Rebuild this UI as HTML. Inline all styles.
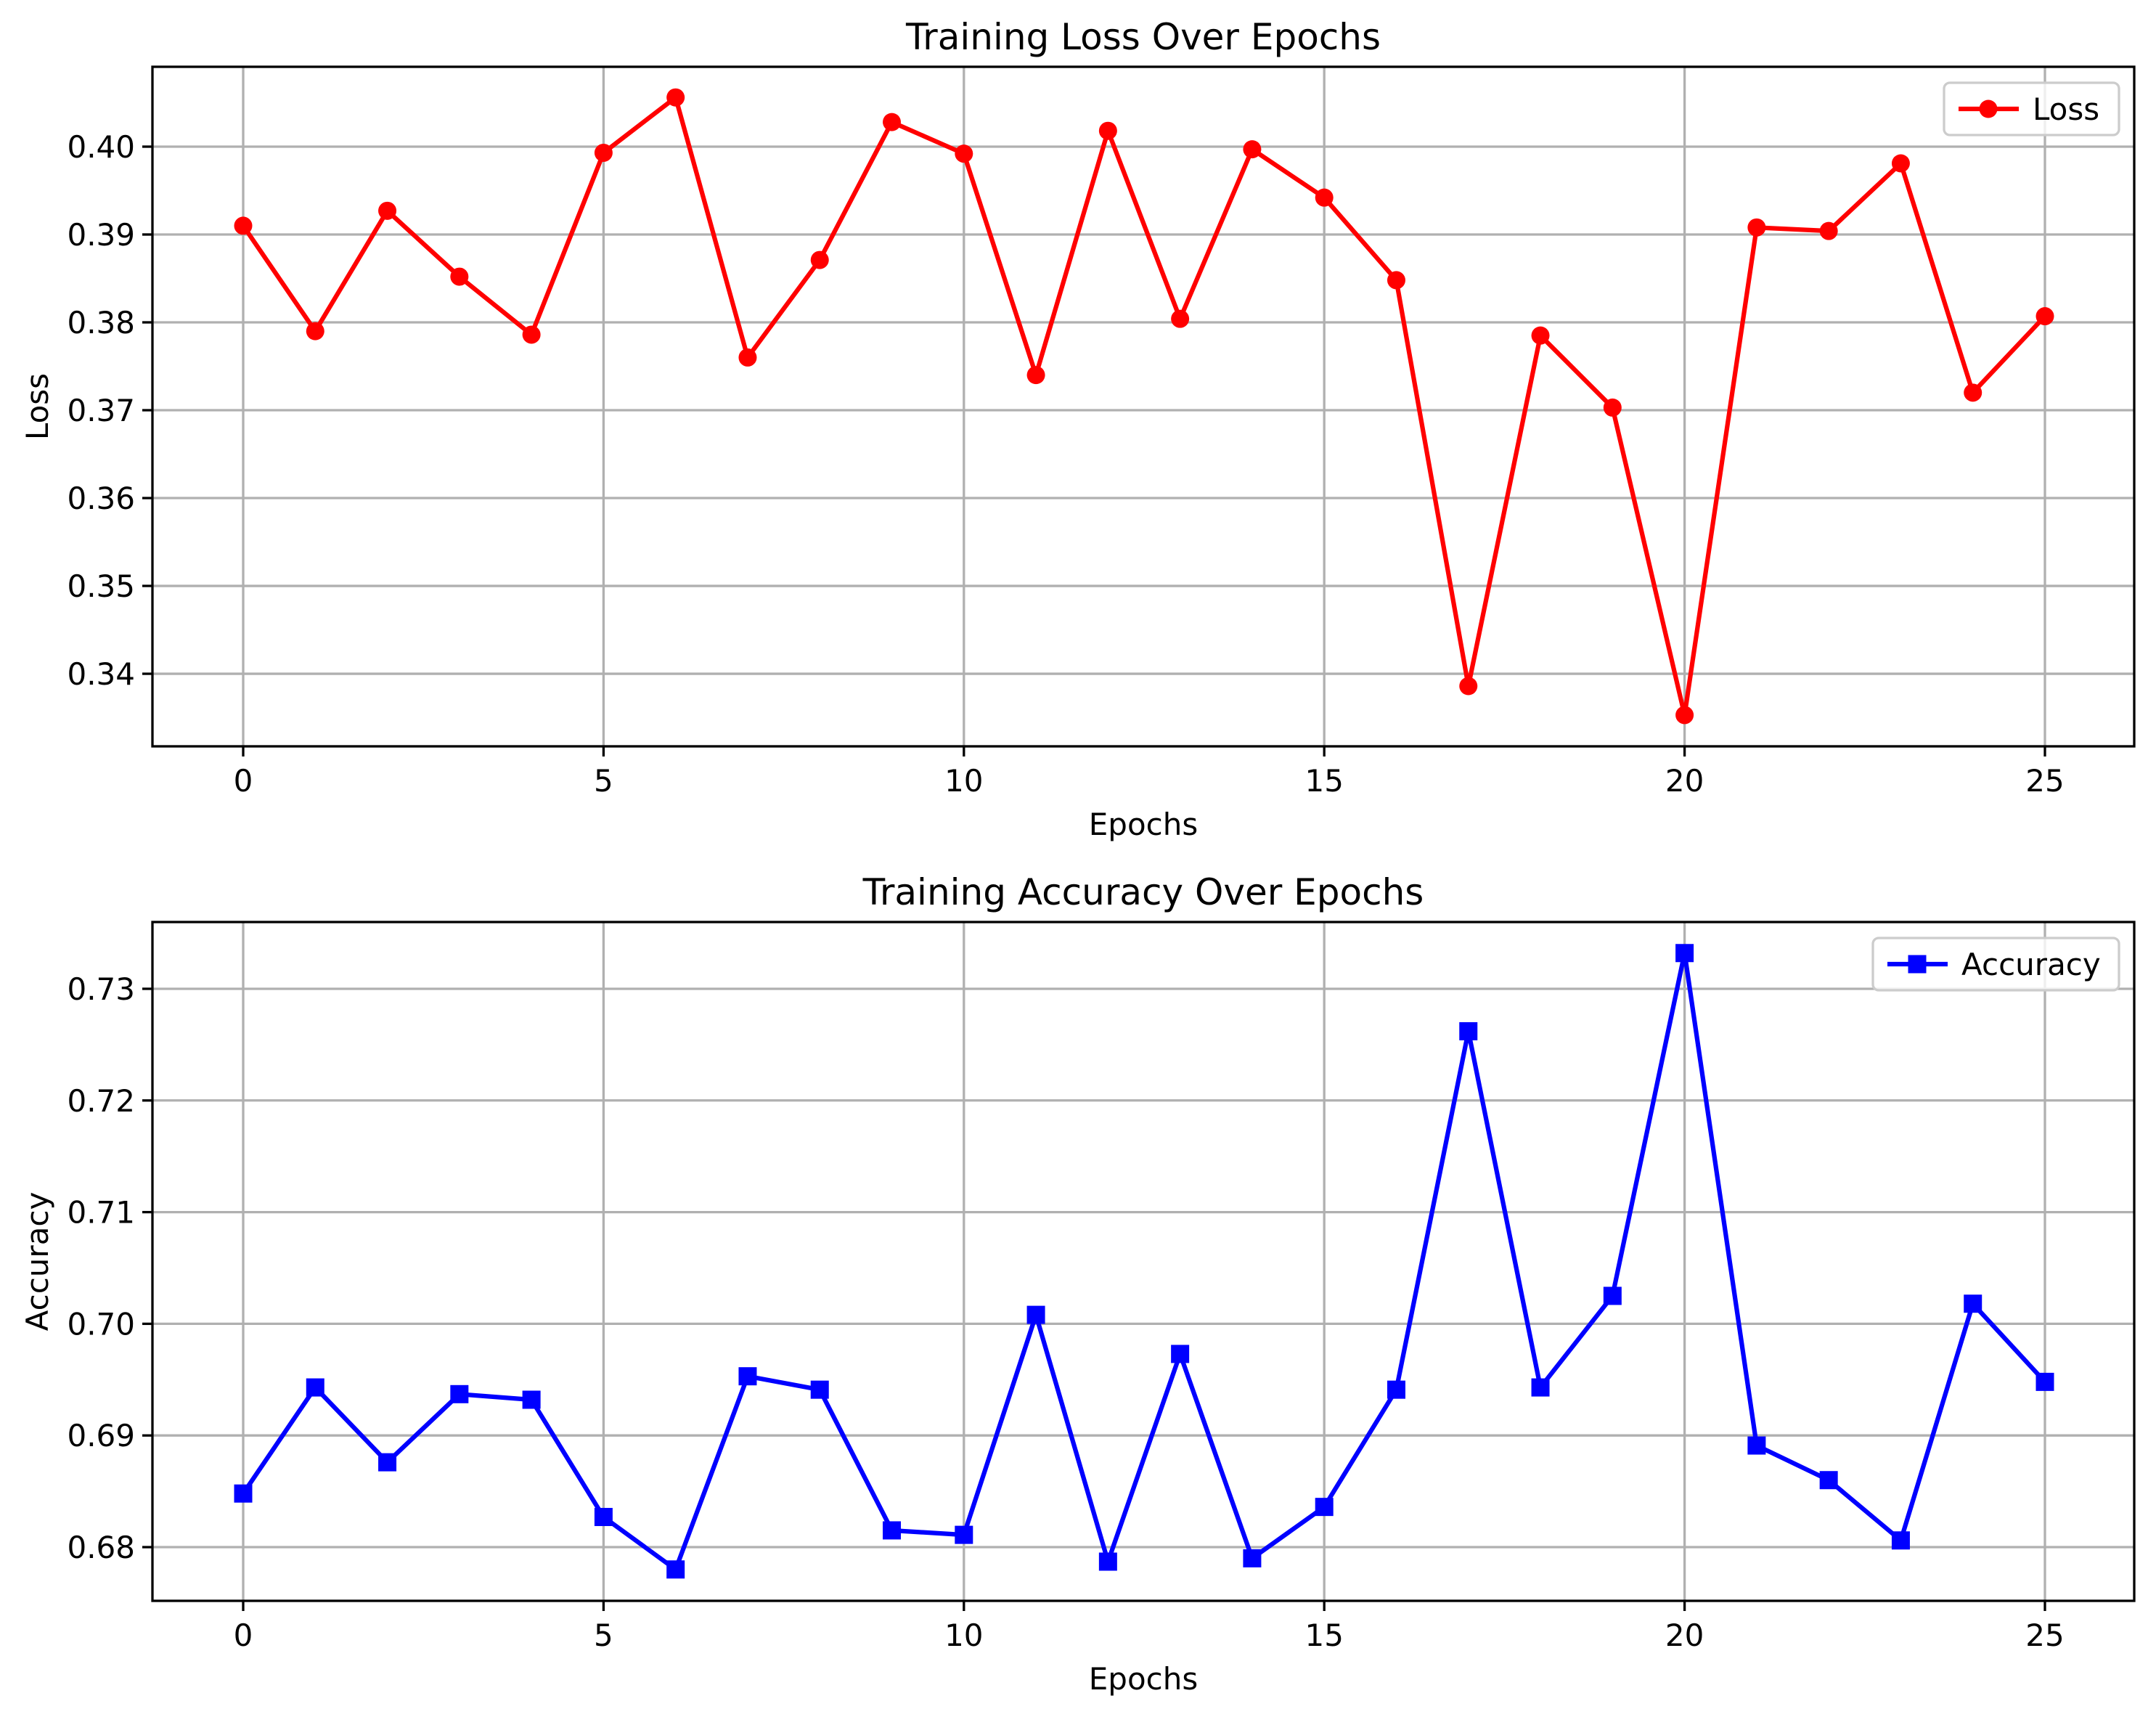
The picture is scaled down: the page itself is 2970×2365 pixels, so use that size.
<!DOCTYPE html>
<html><head><meta charset="utf-8"><style>
body{margin:0;background:#fff}
svg{display:block;font-family:"DejaVu Sans","Liberation Sans",sans-serif}
</style></head><body>
<svg id="c" width="2970" height="2365" xmlns="http://www.w3.org/2000/svg"></svg>
<script>
const epochs=[0,1,2,3,4,5,6,7,8,9,10,11,12,13,14,15,16,17,18,19,20,21,22,23,24,25];
const lossValues=[0.391,0.379,0.3927,0.3852,0.3786,0.3993,0.4056,0.376,0.3871,0.4028,0.3992,0.374,0.4018,0.3804,0.3997,0.3942,0.3848,0.3386,0.3785,0.3703,0.3353,0.3908,0.3904,0.3981,0.372,0.3807];
const accValues=[0.6848,0.6943,0.6876,0.6937,0.6932,0.6827,0.678,0.6953,0.6941,0.6815,0.6811,0.7008,0.6787,0.6973,0.679,0.6836,0.6941,0.7262,0.6943,0.7025,0.7332,0.6891,0.686,0.6806,0.7018,0.6948];
const xTicks=[0,5,10,15,20,25];
const lossTicks=[0.34,0.35,0.36,0.37,0.38,0.39,0.40];
const accTicks=[0.68,0.69,0.70,0.71,0.72,0.73];
const svg=document.getElementById('c');
const NS='http://www.w3.org/2000/svg';
function mk(tag,at,parent){const e=document.createElementNS(NS,tag);for(const k in at)e.setAttribute(k,at[k]);(parent||svg).appendChild(e);return e;}
function txt(s,at,parent){const e=mk('text',at,parent);e.textContent=s;return e;}
function panel(o){
  const g=mk('g',{});
  
  
  const L=210,R=2940,T=o.top,B=o.bottom;
  const xs=v=>335+(v-0)*(2817-335)/25;
  const ys=v=>T+(o.ymax-v)/(o.ymax-o.ymin)*(B-T);
  xTicks.forEach(t=>{const x=xs(t);
    const l=mk('line',{x1:x,x2:x,y1:T,y2:B,stroke:'#b0b0b0','stroke-width':3.3},g);
    
    mk('line',{x1:x,x2:x,y1:B,y2:B+14,stroke:'#000','stroke-width':3.3},g);
    const tl=txt(String(t),{x:x,y:B+62,'font-size':42,'text-anchor':'middle'},g);
    
  });
  o.ticks.forEach(t=>{const y=ys(t);
    const l=mk('line',{x1:L,x2:R,y1:y,y2:y,stroke:'#b0b0b0','stroke-width':3.3},g);
    
    mk('line',{x1:L-14,x2:L,y1:y,y2:y,stroke:'#000','stroke-width':3.3},g);
    const tl=txt(t.toFixed(2),{x:L-24,y:y+15,'font-size':42,'text-anchor':'end'},g);
    
  });
  const pts=epochs.map((e,i)=>xs(e)+','+ys(o.vals[i])).join(' ');
  const pl=mk('polyline',{points:pts,fill:'none',stroke:o.color,'stroke-width':6.25,'stroke-linejoin':'round'},g);
  
  epochs.forEach((e,i)=>{const x=xs(e),y=ys(o.vals[i]);let m;
    if(o.marker==='o')m=mk('circle',{cx:x,cy:y,r:12.5,fill:o.color},g);
    else m=mk('rect',{x:x-12.5,y:y-12.5,width:25,height:25,fill:o.color},g);
    
  });
  const fr=mk('rect',{x:L,y:T,width:R-L,height:B-T,fill:'none',stroke:'#000','stroke-width':3.3},g);
  
  const ti=txt(o.title,{x:(L+R)/2,y:T-24,'font-size':50,'text-anchor':'middle'},g);
  
  const xl=txt('Epochs',{x:(L+R)/2,y:B+122,'font-size':42,'text-anchor':'middle'},g);
  
  const cy=(T+B)/2;
  const yl=txt(o.ylabel,{x:66,y:cy,'font-size':42,'text-anchor':'middle',transform:'rotate(-90 66 '+cy+')'},g);
  
  const lg=mk('g',{},g);
  
  mk('rect',{x:o.lgx,y:T+22,width:2919-o.lgx,height:72,rx:8,fill:'#fff','fill-opacity':0.8,stroke:'#ccc','stroke-width':3.3},lg);
  const ly=T+58;
  mk('line',{x1:o.lgx+20,x2:o.lgx+103,y1:ly,y2:ly,stroke:o.color,'stroke-width':6.25},lg);
  if(o.marker==='o')mk('circle',{cx:o.lgx+61,cy:ly,r:12.5,fill:o.color},lg);
  else mk('rect',{x:o.lgx+48.5,y:ly-12.5,width:25,height:25,fill:o.color},lg);
  txt(o.legend,{x:o.lgx+122,y:ly+15,'font-size':42},lg);
}
panel({name:'loss-chart',key:'loss',top:92,bottom:1028,ymin:0.33174,ymax:0.40909,ticks:lossTicks,vals:lossValues,color:'#ff0000',marker:'o',title:'Training Loss Over Epochs',ylabel:'Loss',legend:'Loss',lgx:2678});
panel({name:'accuracy-chart',key:'accuracy',top:1270,bottom:2205,ymin:0.67519,ymax:0.73598,ticks:accTicks,vals:accValues,color:'#0000ff',marker:'s',title:'Training Accuracy Over Epochs',ylabel:'Accuracy',legend:'Accuracy',lgx:2580});
</script>
</body></html>
